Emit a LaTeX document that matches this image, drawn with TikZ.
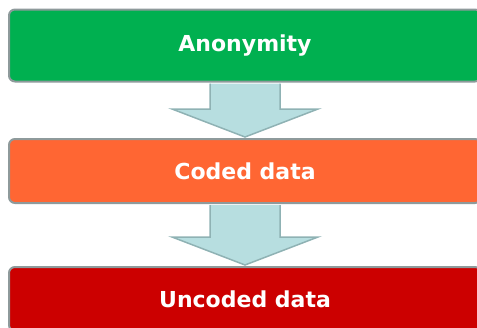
\documentclass[tikz,border=0pt]{standalone}
\usepackage{fontspec}
\setmainfont{DejaVu Sans}
\usetikzlibrary{calc}

\definecolor{anongreen}{HTML}{00B050}
\definecolor{codedorange}{HTML}{FF6633}
\definecolor{uncodedred}{HTML}{CC0000}
\definecolor{arrowblue}{HTML}{B7DEE0}
\definecolor{arrowedge}{HTML}{8FB2B4}
\definecolor{boxedge}{HTML}{8E9A9B}

\tikzset{
  level/.style={draw=boxedge, line width=2pt, rounded corners=6pt,
    minimum width=472pt, text=white, font=\bfseries\fontsize{22}{26}\selectfont},
  fatarrow/.style={draw=arrowedge, fill=arrowblue, line width=1.5pt}
}

\begin{document}
\begin{tikzpicture}[x=1pt,y=-1pt]
    \useasboundingbox (0,0) rectangle (477,327);
    \node[level, fill=anongreen, minimum height=72pt] (anon) at (245,45.5) {Anonymity};
    \node[level, fill=codedorange, minimum height=64pt] (coded) at (245,171) {Coded data};
    \node[level, fill=uncodedred, minimum height=64pt] (uncoded) at (245,299) {Uncoded data};
    \foreach \a/\b in {anon/coded, coded/uncoded}
      \draw[fatarrow] ($(\a.south)+(-35,1)$) |- ($(\b.north)+(-73,-29)$)
        -- ($(\b.north)+(0,-1)$) -- ($(\b.north)+(73,-29)$) -| ($(\a.south)+(35,1)$);
  \end{tikzpicture}
\end{document}
